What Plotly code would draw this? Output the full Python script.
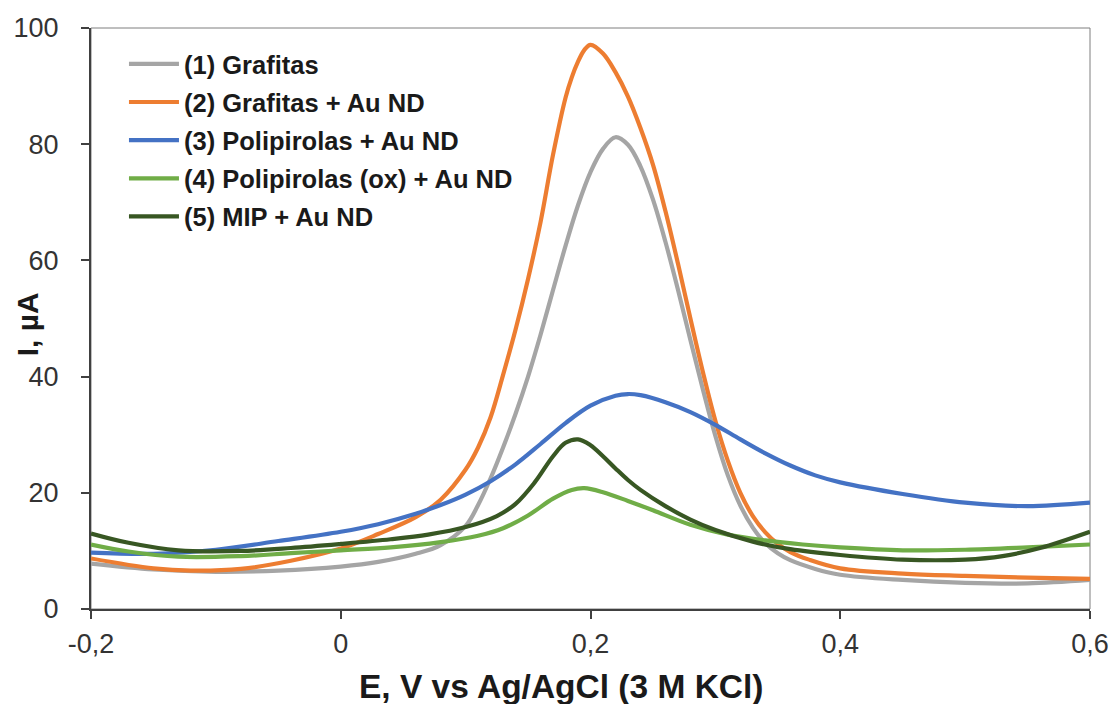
import plotly.graph_objects as go

# Differential pulse voltammograms: potential E (V vs Ag/AgCl) and current I (µA)
e_grafitas = [-0.2, -0.15, -0.1, -0.05, 0.0, 0.03, 0.06, 0.08, 0.10, 0.11, 0.12, 0.13, 0.14,
              0.15, 0.16, 0.17, 0.18, 0.19, 0.20, 0.21, 0.22, 0.23, 0.24, 0.25, 0.26, 0.27,
              0.28, 0.29, 0.30, 0.31, 0.32, 0.33, 0.34, 0.35, 0.36, 0.38, 0.40, 0.45, 0.50,
              0.55, 0.6]
i_grafitas = [7.8, 6.8, 6.4, 6.6, 7.3, 8.1, 9.5, 11.0, 14.3, 17.9, 22.5, 27.8, 33.6,
              40.0, 47.2, 54.9, 62.5, 69.5, 75.2, 79.2, 81.2, 79.9, 76.2, 70.5, 63.2, 55.0,
              46.3, 37.8, 29.8, 23.0, 17.8, 14.0, 11.3, 9.6, 8.4, 6.9, 5.9, 5.0, 4.5,
              4.4, 5.0]

e_grafitas_au = [-0.2, -0.15, -0.12, -0.08, -0.04, 0.0, 0.03, 0.06, 0.08, 0.10, 0.11, 0.12,
                 0.13, 0.14, 0.15, 0.16, 0.17, 0.18, 0.185, 0.19, 0.195, 0.20, 0.21, 0.22,
                 0.23, 0.24, 0.25, 0.26, 0.27, 0.28, 0.29, 0.30, 0.31, 0.32, 0.33, 0.34,
                 0.35, 0.36, 0.375, 0.40, 0.45, 0.50, 0.55, 0.6]
i_grafitas_au = [8.7, 7.0, 6.6, 6.9, 8.3, 10.4, 12.9, 15.8, 18.8, 24.0, 27.8, 33.0,
                 40.3, 48.1, 56.8, 66.6, 78.2, 88.0, 91.5, 94.2, 96.2, 97.1, 95.6, 92.4,
                 88.2, 82.8, 76.5, 68.5, 59.5, 50.0, 40.8, 32.4, 25.5, 20.0, 16.0, 13.2,
                 11.2, 9.8, 8.5, 7.0, 6.1, 5.7, 5.4, 5.2]

e_ppy_au = [-0.2, -0.15, -0.1, -0.05, 0.0, 0.03, 0.06, 0.08, 0.10, 0.12, 0.14, 0.16, 0.18,
            0.20, 0.22, 0.23, 0.24, 0.26, 0.28, 0.30, 0.32, 0.34, 0.36, 0.38, 0.40, 0.45,
            0.50, 0.55, 0.6]
i_ppy_au = [9.7, 9.5, 10.2, 11.7, 13.3, 14.6, 16.4, 17.9, 19.7, 22.0, 24.9, 28.4, 32.0,
            35.0, 36.7, 37.0, 36.8, 35.6, 33.9, 31.7, 29.2, 26.8, 24.7, 23.0, 21.8, 19.8,
            18.3, 17.7, 18.3]

e_ppy_ox_au = [-0.2, -0.17, -0.13, -0.08, -0.04, 0.0, 0.04, 0.08, 0.11, 0.13, 0.15, 0.17,
               0.185, 0.195, 0.21, 0.23, 0.25, 0.28, 0.31, 0.34, 0.37, 0.40, 0.45, 0.50,
               0.55, 0.6]
i_ppy_ox_au = [11.1, 9.9, 9.0, 9.1, 9.6, 10.1, 10.6, 11.5, 12.6, 13.9, 16.1, 19.0,
               20.5, 20.8, 20.1, 18.6, 17.0, 14.5, 12.8, 11.8, 11.1, 10.6, 10.1, 10.2,
               10.6, 11.1]

e_mip_au = [-0.2, -0.17, -0.13, -0.08, -0.04, 0.0, 0.04, 0.07, 0.10, 0.125, 0.14, 0.155,
            0.17, 0.18, 0.19, 0.20, 0.21, 0.22, 0.23, 0.24, 0.26, 0.28, 0.30, 0.33, 0.36,
            0.40, 0.45, 0.50, 0.53, 0.56, 0.6]
i_mip_au = [13.0, 11.4, 10.1, 10.0, 10.5, 11.2, 12.0, 12.8, 14.1, 16.0, 18.1, 21.7,
            26.3, 28.6, 29.2, 28.2, 26.3, 24.2, 22.2, 20.5, 17.7, 15.4, 13.6, 11.6, 10.3,
            9.3, 8.5, 8.5, 9.1, 10.5, 13.3]

series_names = ["(1) Grafitas", "(2) Grafitas + Au ND", "(3) Polipirolas + Au ND",
                "(4) Polipirolas (ox) + Au ND", "(5) MIP + Au ND"]
series_colors = ["#A5A5A5", "#ED7D31", "#4472C4", "#70AD47", "#385723"]

x_tick_vals = [-0.2, 0.0, 0.2, 0.4, 0.6]
x_tick_text = ["-0,2", "0", "0,2", "0,4", "0,6"]
y_tick_vals = [0, 20, 40, 60, 80, 100]

x_title = "E, V vs Ag/AgCl (3 M KCl)"
y_title = "I, µA"

series = [(e_grafitas, i_grafitas), (e_grafitas_au, i_grafitas_au), (e_ppy_au, i_ppy_au),
          (e_ppy_ox_au, i_ppy_ox_au), (e_mip_au, i_mip_au)]

FONT = "Liberation Sans, Arial, sans-serif"
AXIS_COLOR = "#404040"
TITLE_COLOR = "#1a1a1a"

fig = go.Figure()
for k, ((ex, iy), name, color) in enumerate(zip(series, series_names, series_colors)):
    fig.add_trace(go.Scatter(
        x=ex, y=iy, mode="lines", name=name, legendgroup=f"g{k}",
        line=dict(color=color, width=4.2, shape="spline", smoothing=1.0),
    ))

axis_common = dict(
    showgrid=False, zeroline=False, automargin=False,
    showline=True, linecolor=AXIS_COLOR, linewidth=2,
    ticks="outside", ticklen=8, tickwidth=2, tickcolor=AXIS_COLOR,
    tickfont=dict(family=FONT, size=27, color="#333333"),
)

fig.update_layout(
    width=1113, height=704,
    margin=dict(l=91, r=23, t=28, b=95),
    paper_bgcolor="white", plot_bgcolor="white",
    font=dict(family=FONT, color="#333333"),
    showlegend=True,
    legend=dict(
        x=0.033, y=0.978, xanchor="left", yanchor="top",
        bgcolor="rgba(0,0,0,0)", borderwidth=0,
        font=dict(family=FONT, size=25.5, color=TITLE_COLOR, weight="bold"),
        traceorder="grouped", tracegroupgap=2, itemwidth=50,
    ),
    xaxis=dict(range=[-0.2, 0.6], tickvals=x_tick_vals, ticktext=x_tick_text,
               ticklabelstandoff=2, **axis_common),
    yaxis=dict(range=[0, 100], tickvals=y_tick_vals, ticklabelstandoff=17, **axis_common),
)

# axis titles
fig.add_annotation(text=x_title, xref="paper", yref="paper", x=0.471, y=-0.134,
                   xanchor="center", yanchor="middle", showarrow=False,
                   font=dict(family=FONT, size=33.5, color=TITLE_COLOR, weight="bold"))
fig.add_annotation(text=y_title, xref="paper", yref="paper", x=-0.064, y=0.49,
                   xanchor="center", yanchor="middle", showarrow=False, textangle=-90,
                   font=dict(family=FONT, size=30, color=TITLE_COLOR, weight="bold"))

# thin frame around the plotting area
fig.add_shape(type="rect", xref="paper", yref="paper", x0=0, y0=0, x1=1, y1=1,
              line=dict(color="#7f7f7f", width=1), layer="below")

fig.write_html("out.html")
